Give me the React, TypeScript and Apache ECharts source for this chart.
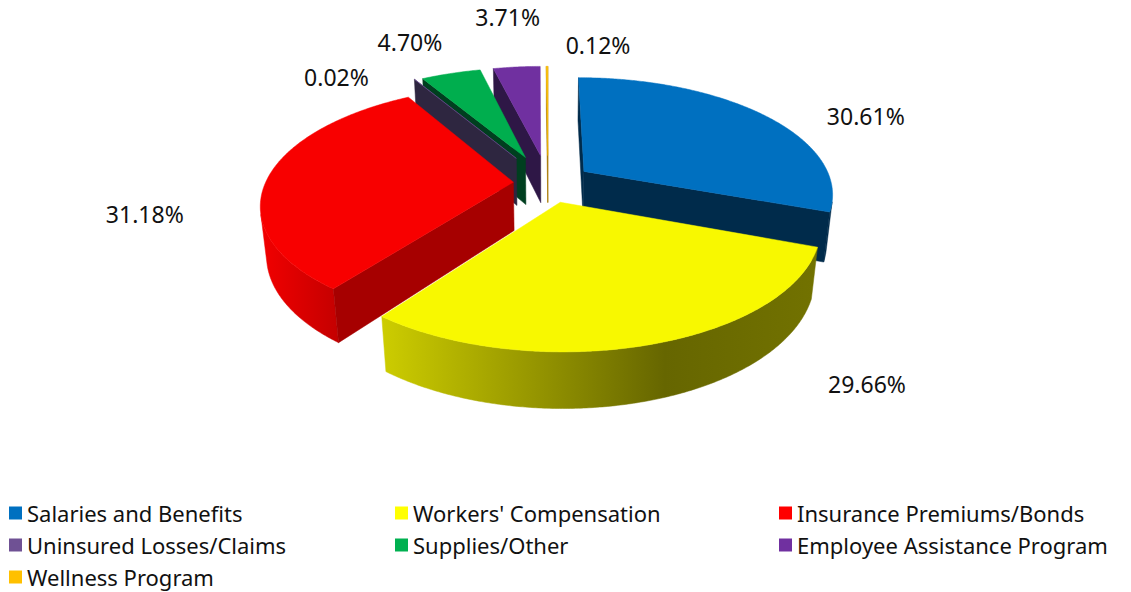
import React, { useEffect, useRef } from "react";
import * as echarts from "echarts";

// ---------- data ----------
const CATEGORIES = [
  "Salaries and Benefits",
  "Workers' Compensation",
  "Insurance Premiums/Bonds",
  "Uninsured Losses/Claims",
  "Supplies/Other",
  "Employee Assistance Program",
  "Wellness Program",
];
const VALUES = [30.61, 29.66, 31.18, 0.02, 4.7, 3.71, 0.12];

// ---------- styles ----------
const LEGEND_COLORS = ["#0070C0", "#FFFF00", "#FF0000", "#6F5194", "#00B050", "#7030A0", "#FFC000"];
const TOP_COLORS = ["#0070C0", "#F8F800", "#F80000", "#6F5194", "#00AE4E", "#7030A0", "#FFC000"];
const CUT_COLORS = ["#002B4B", "#8C8C00", "#A60000", "#2E2640", "#003F1F", "#2E1746", "#A87800"];
const WALL_STOPS: [number, string][][] = [
  [[0, "#002B4B"], [1, "#002B4B"]],
  [[0, "#CDCD00"], [0.65, "#666600"], [1, "#727200"]],
  [[0, "#F20000"], [1, "#C40000"]],
  [[0, "#3A3050"], [1, "#3A3050"]],
  [[0, "#006B33"], [1, "#004020"]],
  [[0, "#3A1D5A"], [1, "#2E1746"]],
  [[0, "#B08000"], [1, "#B08000"]],
];
const EXPLODE = [0.18, 0.17, 0.14, 0.26, 0.25, 0.25, 0.25];
const LABEL_OFFSETS = [
  [104, 2],
  [216, 40],
  [-124, 38],
  [-78, -2],
  [-41, -31],
  [-9, -50],
  [51, -21],
];

// ---------- 3D projection layout ----------
const CX = 548;
const CY = 183;
const SCALE = 248;
const DIST = 4.89;
const SIN_A = 0.462;
const COS_A = Math.sqrt(1 - SIN_A * SIN_A);
const THICK = 0.225;
const K = SCALE * DIST;
const FONT = "'Noto Sans', 'Open Sans', sans-serif";

function proj(X: number, Y: number, Z: number): [number, number] {
  const depth = DIST + Y * COS_A - Z * SIN_A;
  const up = Y * SIN_A + Z * COS_A;
  return [CX + (K * X) / depth, CY - (K * up) / depth];
}

const TOTAL = VALUES.reduce((a, b) => a + b, 0);
const STARTS: number[] = [];
{
  let acc = 0;
  for (const v of VALUES) {
    STARTS.push(acc);
    acc += v;
  }
}

// painter's order: back slices first
const RANK: number[] = (() => {
  const depthY = VALUES.map((v, i) => {
    const m = ((STARTS[i] + v / 2) / TOTAL) * Math.PI * 2;
    return (EXPLODE[i] + 0.5) * Math.cos(m);
  });
  const order = depthY.map((d, i) => i).sort((a, b) => depthY[b] - depthY[a]);
  const r: number[] = [];
  order.forEach((idx, k) => (r[idx] = k));
  return r;
})();

function makeRenderItem(i: number) {
  return (_params: any, api: any) => {
    const v = api.value(0);
    const a0 = (STARTS[i] / TOTAL) * Math.PI * 2;
    const a1 = a0 + (v / TOTAL) * Math.PI * 2;
    const m = (a0 + a1) / 2;
    const e = EXPLODE[i];
    const ox = e * Math.sin(m);
    const oy = e * Math.cos(m);
    const children: any[] = [];
    const base = RANK[i] * 10;
    const N = Math.max(2, Math.ceil((a1 - a0) / (Math.PI / 360)));
    const thetas: number[] = [];
    for (let k = 0; k <= N; k++) thetas.push(a0 + ((a1 - a0) * k) / N);

    // outer wall, visible parts only
    const vis = (t: number) => -1 - ox * Math.sin(t) - (DIST * COS_A + oy) * Math.cos(t) > 0;
    let run: number[] = [];
    const flush = () => {
      if (run.length >= 2) {
        const topPts = run.map((t) => proj(ox + Math.sin(t), oy + Math.cos(t), 0));
        const botPts = run.map((t) => proj(ox + Math.sin(t), oy + Math.cos(t), -THICK)).reverse();
        const grad = new echarts.graphic.LinearGradient(
          0, 0, 1, 0,
          WALL_STOPS[i].map(([o, c]) => ({ offset: o, color: c }))
        );
        children.push({
          type: "polygon",
          shape: { points: topPts.concat(botPts) },
          style: { fill: grad, stroke: grad, lineWidth: 0.5 },
          z2: base + 1,
        });
      }
      run = [];
    };
    for (const t of thetas) {
      if (vis(t)) run.push(t);
      else flush();
    }
    flush();

    // cut faces
    const cutFace = (t: number) => {
      const p1 = proj(ox, oy, 0);
      const p2 = proj(ox + Math.sin(t), oy + Math.cos(t), 0);
      const p3 = proj(ox + Math.sin(t), oy + Math.cos(t), -THICK);
      const p4 = proj(ox, oy, -THICK);
      children.push({
        type: "polygon",
        shape: { points: [p1, p2, p3, p4] },
        style: { fill: CUT_COLORS[i], stroke: CUT_COLORS[i], lineWidth: 0.5 },
        z2: base + 2,
      });
    };
    const far = DIST * COS_A + oy;
    if (ox * Math.cos(a0) - Math.sin(a0) * far > 0) cutFace(a0);
    if (-ox * Math.cos(a1) + Math.sin(a1) * far > 0) cutFace(a1);

    // top face
    const topFace = [proj(ox, oy, 0)].concat(
      thetas.map((t) => proj(ox + Math.sin(t), oy + Math.cos(t), 0))
    );
    children.push({
      type: "polygon",
      shape: { points: topFace },
      style: { fill: TOP_COLORS[i], stroke: TOP_COLORS[i], lineWidth: 0.5 },
      z2: base + 5,
    });

    // label
    const rim = proj((1 + e) * Math.sin(m), (1 + e) * Math.cos(m), 0);
    children.push({
      type: "text",
      x: rim[0] + LABEL_OFFSETS[i][0],
      y: rim[1] + LABEL_OFFSETS[i][1],
      style: {
        text: ((v / TOTAL) * 100).toFixed(2) + "%",
        fill: "#111",
        fontSize: 23,
        fontFamily: FONT,
        align: "center",
        verticalAlign: "middle",
      },
      z2: 200,
    });

    return { type: "group", children };
  };
}

const legendBase = {
  orient: "vertical",
  top: 500,
  padding: 0,
  itemWidth: 13,
  itemHeight: 13,
  itemGap: 6,
  icon: "rect",
  selectedMode: false,
  textStyle: { fontSize: 22, lineHeight: 26, fontFamily: FONT, color: "#111" },
};

export default function App() {
  const ref = useRef<HTMLDivElement>(null);
  useEffect(() => {
    if (!ref.current) return;
    const chart = echarts.init(ref.current, undefined, { renderer: "svg" });
    chart.setOption({
      animation: false,
      backgroundColor: "#ffffff",
      color: LEGEND_COLORS,
      legend: [
        { ...legendBase, left: 9, data: [CATEGORIES[0], CATEGORIES[3], CATEGORIES[6]] },
        { ...legendBase, left: 395, data: [CATEGORIES[1], CATEGORIES[4]] },
        { ...legendBase, left: 779, data: [CATEGORIES[2], CATEGORIES[5]] },
      ],
      series: CATEGORIES.map((name, i) => ({
        type: "custom",
        name,
        coordinateSystem: "none",
        silent: true,
        itemStyle: { color: LEGEND_COLORS[i] },
        data: [[VALUES[i]]],
        renderItem: makeRenderItem(i),
      })),
    });
    return () => chart.dispose();
  }, []);
  return (
    <div
      ref={ref}
      style={{ position: "fixed", left: 0, top: 0, width: 1131, height: 592, background: "#fff" }}
    />
  );
}
